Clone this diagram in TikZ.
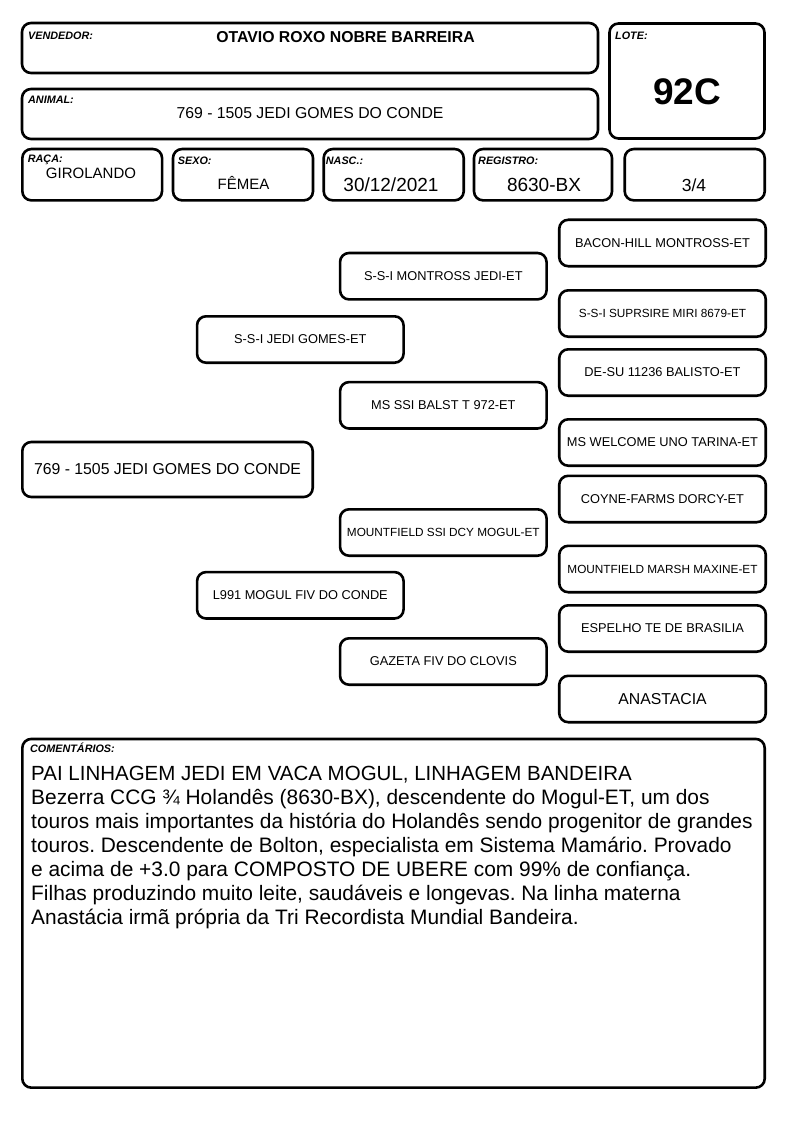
\documentclass[tikz,border=0pt]{standalone}
\usepackage{fontspec}
\setmainfont{Liberation Sans}
\frenchspacing
\begin{document}
\begin{tikzpicture}[x=1pt,y=-1pt,
  box/.style={draw=black, line width=2.6pt, rounded corners=9pt, inner sep=0pt, align=center},
  lbl/.style={anchor=base west, inner sep=0pt, font=\fontsize{10.8}{12}\selectfont\bfseries\itshape},
  val/.style={anchor=base, inner sep=0pt},
  ped/.style={box, minimum width=206.5pt, minimum height=46.4pt, font=\fontsize{12.8}{15}\selectfont},
  pedsm/.style={ped, font=\fontsize{11.8}{14}\selectfont},
  pedbig/.style={ped, font=\fontsize{15.8}{18}\selectfont}]
\useasboundingbox (0,0) rectangle (794,1123);
% header
\node[box, minimum width=576pt, minimum height=50pt] (vend) at (310,48) {};
\node[lbl] (vendl) at (28,39.5) {VENDEDOR:};
\node[val, font=\fontsize{15.8}{18}\selectfont\bfseries] (vendv) at (345.5,42.7) {OTAVIO ROXO NOBRE BARREIRA};
\node[box, minimum width=155pt, minimum height=115pt] (lote) at (687,81) {};
\node[lbl] (lotel) at (615,39.5) {LOTE:};
\node[val, font=\fontsize{37}{40}\selectfont\bfseries] (lotev) at (687,104.3) {92C};
\node[box, minimum width=576pt, minimum height=50pt] (anim) at (310,114) {};
\node[lbl] (animl) at (28,103.3) {ANIMAL:};
\node[val, font=\fontsize{15.8}{18}\selectfont] (animv) at (310,119) {769 - 1505 JEDI GOMES DO CONDE};
\node[box, minimum width=139.7pt, minimum height=51.3pt] (raca) at (92.2,174.7) {};
\node[box, minimum width=140pt, minimum height=51.3pt] (sexo) at (243,174.7) {};
\node[box, minimum width=140pt, minimum height=51.3pt] (nasc) at (393.7,174.7) {};
\node[box, minimum width=138pt, minimum height=51.3pt] (reg) at (543,174.7) {};
\node[box, minimum width=140pt, minimum height=51.3pt] (frac) at (694.7,174.7) {};
\node[lbl] (racal) at (27.7,162.3) {RAÇA:};
\node[lbl] (sexol) at (177.7,165) {SEXO:};
\node[lbl] (nascl) at (325.7,165) {NASC.:};
\node[lbl] (regl) at (478,165) {REGISTRO:};
\node[val, font=\fontsize{15}{18}\selectfont] (racav) at (91,178.3) {GIROLANDO};
\node[val, font=\fontsize{15}{18}\selectfont] (sexov) at (243.5,189.3) {FÊMEA};
\node[val, font=\fontsize{19}{22}\selectfont] (nascv) at (391,191.7) {30/12/2021};
\node[val, font=\fontsize{19}{22}\selectfont] (regv) at (544,191.7) {8630-BX};
\node[val, font=\fontsize{17.5}{20}\selectfont] (fracv) at (694,191.7) {3/4};
% pedigree
\node[pedbig, minimum width=290.4pt, minimum height=55pt] (p0) at (167.5,469.5) {769 - 1505 JEDI GOMES DO CONDE};
\node[ped] (p1) at (300.3,339.5) {S-S-I JEDI GOMES-ET};
\node[ped] (p2) at (300.3,595.3) {L991 MOGUL FIV DO CONDE};
\node[ped] (p11) at (443.3,276.2) {S-S-I MONTROSS JEDI-ET};
\node[ped] (p12) at (443.3,405.3) {MS SSI BALST T 972-ET};
\node[pedsm] (p21) at (443.3,532.5) {MOUNTFIELD SSI DCY MOGUL-ET};
\node[ped] (p22) at (443.3,661.5) {GAZETA FIV DO CLOVIS};
\node[ped] (p111) at (662.5,243) {BACON-HILL MONTROSS-ET};
\node[pedsm] (p112) at (662.5,313.5) {S-S-I SUPRSIRE MIRI 8679-ET};
\node[ped] (p121) at (662.5,372.5) {DE-SU 11236 BALISTO-ET};
\node[ped] (p122) at (662.5,442.5) {MS WELCOME UNO TARINA-ET};
\node[ped] (p211) at (662.5,499) {COYNE-FARMS DORCY-ET};
\node[pedsm] (p212) at (662.5,569) {MOUNTFIELD MARSH MAXINE-ET};
\node[ped] (p221) at (662.5,628.5) {ESPELHO TE DE BRASILIA};
\node[pedbig] (p222) at (662.5,699) {ANASTACIA};
% comments
\node[box, minimum width=742.4pt, minimum height=348.7pt] (com) at (393.5,913.3) {};
\node[lbl] (coml) at (30,752.3) {COMENTÁRIOS:};
\node[anchor=base west, inner sep=0pt, align=left, font=\fontsize{20.9}{24}\selectfont] (comv) at (31,924.7)
{{\fontsize{20.5}{24}\selectfont PAI LINHAGEM JEDI EM VACA MOGUL, LINHAGEM BANDEIRA}\\
Bezerra CCG ¾ Holandês (8630-BX), descendente do Mogul-ET, um dos\\
touros mais importantes da história do Holandês sendo progenitor de grandes\\
touros. Descendente de Bolton, especialista em Sistema Mamário. Provado\\
e acima de +3.0 para COMPOSTO DE UBERE com 99\% de confiança.\\
Filhas produzindo muito leite, saudáveis e longevas. Na linha materna\\
Anastácia irmã própria da Tri Recordista Mundial Bandeira.};
\end{tikzpicture}
\end{document}
